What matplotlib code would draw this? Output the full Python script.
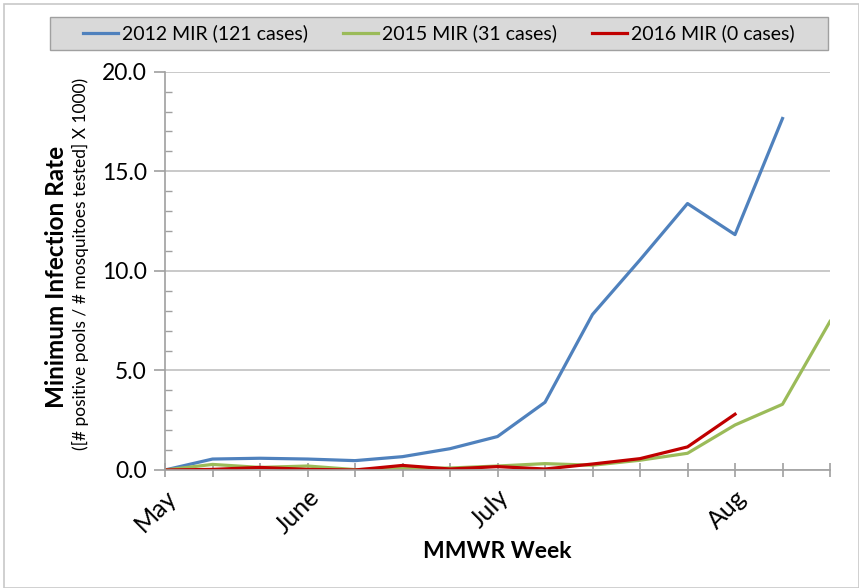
import matplotlib
matplotlib.use("Agg")
import matplotlib.pyplot as plt
from matplotlib.patches import Rectangle
from matplotlib.ticker import MultipleLocator, FixedLocator, FixedFormatter
from matplotlib.transforms import ScaledTranslation

plt.rcParams['font.family'] = ['Lato', 'DejaVu Sans']

weeks = list(range(15))
tick_positions = [0, 3, 7, 12]
tick_labels = ["May", "June", "July", "Aug"]

mir_2012 = [0.0, 0.55, 0.59, 0.55, 0.47, 0.67, 1.07, 1.68, 3.4, 7.81, 10.55, 13.38, 11.82, 17.65]
mir_2015 = [0.0, 0.28, 0.13, 0.2, 0.02, 0.07, 0.1, 0.2, 0.32, 0.24, 0.49, 0.84, 2.26, 3.3, 7.46]
mir_2016 = [0.0, 0.03, 0.13, 0.03, 0.0, 0.23, 0.05, 0.17, 0.05, 0.3, 0.57, 1.16, 2.8]

labels = ["2012 MIR (121 cases)", "2015 MIR (31 cases)", "2016 MIR (0 cases)"]
colors = ["#4F81BD", "#9BBB59", "#C00000"]

W, H = 859, 588
fig = plt.figure(figsize=(W / 100, H / 100), dpi=100)
fig.patches.append(Rectangle((4 / W, 0), 1 - 4 / W, 1 - 4 / H, transform=fig.transFigure,
                             fill=False, edgecolor="#c8c8c8", linewidth=1.2))
# legend box
lx0, lx1, ly0, ly1 = 50, 828, 17, 50
fig.patches.append(Rectangle((lx0 / W, 1 - ly1 / H), (lx1 - lx0) / W, (ly1 - ly0) / H,
                             transform=fig.transFigure, facecolor='#d9d9d9',
                             edgecolor='#a0a0a0', linewidth=1.0))

x0, x1, y0, y1 = 165, 830, 71.7, 470
ax = fig.add_axes([x0 / W, 1 - y1 / H, (x1 - x0) / W, (y1 - y0) / H])

series = [mir_2012, mir_2015, mir_2016]
for vals, lab, col in zip(series, labels, colors):
    ax.plot(weeks[:len(vals)], vals, color=col, lw=2.3, label=lab, solid_joinstyle='round')

ax.set_xlim(0, 14)
ax.set_ylim(0, 20)
ax.yaxis.set_major_locator(MultipleLocator(5))
ax.yaxis.set_minor_locator(MultipleLocator(1))
ax.yaxis.set_major_formatter(matplotlib.ticker.FormatStrFormatter('%.1f'))
ax.grid(axis='y', which='major', color='#c0c0c0', lw=1.2)
ax.set_axisbelow(True)

ax.xaxis.set_major_locator(FixedLocator(weeks))
ax.xaxis.set_major_formatter(FixedFormatter([tick_labels[tick_positions.index(w)] if w in tick_positions else "" for w in weeks]))
ax.tick_params(axis='x', which='major', direction='inout', length=10, color='#a0a0a0', width=1.2,
               labelsize=18, pad=12)
ax.tick_params(axis='y', which='major', direction='out', length=8, color='#a0a0a0', width=1.2,
               labelsize=16.5, pad=5)
ax.tick_params(axis='y', which='minor', direction='in', length=5, color='#a0a0a0', width=1.0)
shift = ScaledTranslation(8 / 100, 0, fig.dpi_scale_trans)
for t in ax.get_xticklabels():
    t.set_rotation(45)
    t.set_ha('right')
    t.set_va('center')
    t.set_rotation_mode('anchor')
    t.set_transform(t.get_transform() + shift)

for s in ['top', 'right']:
    ax.spines[s].set_visible(False)
for s in ['left', 'bottom']:
    ax.spines[s].set_color('#a0a0a0')
    ax.spines[s].set_linewidth(1.2)

fig.text(57 / W, 1 - 277 / H, "Minimum Infection Rate", rotation=90, ha='center', va='center',
         fontsize=17.5, fontweight='bold')
fig.text(80 / W, 1 - 264 / H, "([# positive pools / # mosquitoes tested] X 1000)", rotation=90,
         ha='center', va='center', fontsize=12.5)
fig.text(497 / W, 1 - 551 / H, "MMWR Week", ha='center', va='center', fontsize=16.5, fontweight='bold')

leg = fig.legend(loc='center', bbox_to_anchor=((lx0 + lx1) / 2 / W, 1 - (ly0 + ly1) / 2 / H),
                 ncol=3, fontsize=14, frameon=False, handlelength=1.8, handletextpad=0.2,
                 columnspacing=1.8)

fig.savefig("out.png", dpi=100)
